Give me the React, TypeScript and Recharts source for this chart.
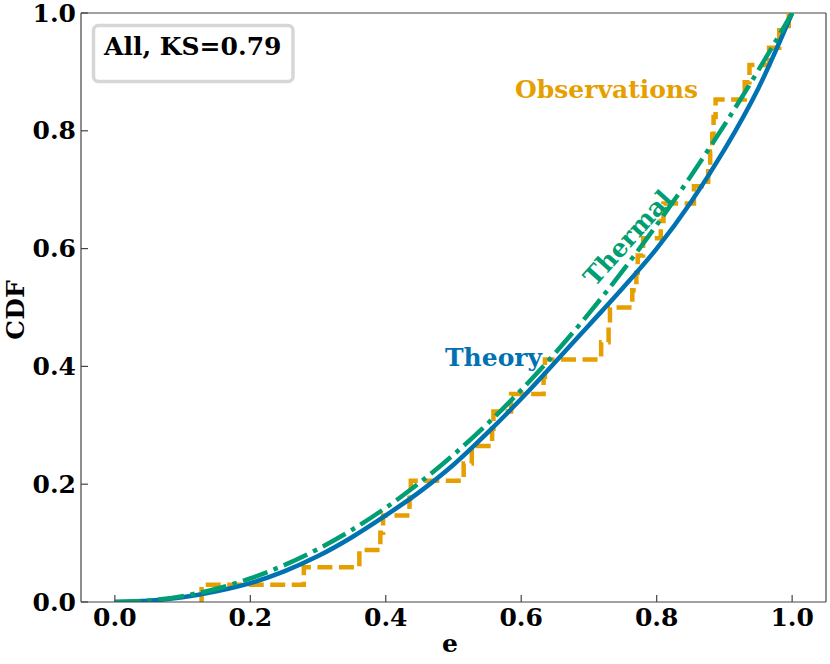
import React from 'react';
import { LineChart, Line, XAxis, YAxis, ReferenceLine } from 'recharts';

const FONT = '"DejaVu Serif", serif';
const BLUE = '#0072B2';
const ORANGE = '#E69F00';
const GREEN = '#009E73';
const AXIS = '#444';

const xTicks = [0, 0.2, 0.4, 0.6, 0.8, 1.0];
const yTicks = [0, 0.2, 0.4, 0.6, 0.8, 1.0];

// sorted eccentricities of the observed sample (34 systems)
const obsE = [
  0.128, 0.279, 0.361, 0.392, 0.396, 0.435, 0.437, 0.515, 0.527, 0.557,
  0.559, 0.585, 0.633, 0.635, 0.718, 0.729, 0.731, 0.764, 0.77, 0.772,
  0.78, 0.806, 0.81, 0.855, 0.876, 0.879, 0.882, 0.884, 0.887, 0.93,
  0.937, 0.966, 0.981, 0.995,
];

const gridE = [
  0, 0.05, 0.1, 0.15, 0.2, 0.25, 0.3, 0.35, 0.4, 0.45, 0.5,
  0.55, 0.6, 0.65, 0.7, 0.75, 0.8, 0.85, 0.9, 0.95, 1.0,
];
const theoryCdf = [
  0, 0.002, 0.008, 0.018, 0.032, 0.052, 0.078, 0.11, 0.147, 0.187, 0.233,
  0.287, 0.345, 0.407, 0.47, 0.533, 0.6, 0.678, 0.768, 0.872, 1.0,
];
const thermalCdf = [
  0, 0.0025, 0.01, 0.0225, 0.04, 0.0625, 0.09, 0.1225, 0.16, 0.2025, 0.25,
  0.3025, 0.36, 0.4225, 0.49, 0.5625, 0.64, 0.7225, 0.81, 0.9025, 1.0,
];

// empirical CDF: jump of 1/N at each observed value
const obsData = [
  { e: obsE[0], cdf: 0 },
  ...obsE.map((e, i) => ({ e, cdf: (i + 1) / obsE.length })),
];
const theoryData = gridE.map((e, i) => ({ e, cdf: theoryCdf[i] }));
const thermalData = gridE.map((e, i) => ({ e, cdf: thermalCdf[i] }));

const textStyle = { fontFamily: FONT, fontWeight: 'bold' as const, fontSize: 25 };

const XTick = ({ x, y, payload }: any) => (
  <g>
    <line x1={x} y1={y} x2={x} y2={y - 7} stroke={AXIS} strokeWidth={1.2} />
    <text x={x} y={y + 24} textAnchor="middle" fill="#000" style={textStyle}>
      {payload.value.toFixed(1)}
    </text>
  </g>
);

const YTick = ({ x, y, payload }: any) => (
  <g>
    <line x1={x} y1={y} x2={x + 7} y2={y} stroke={AXIS} strokeWidth={1.2} />
    <text x={x - 5} y={y + 8.5} textAnchor="end" fill="#000" style={textStyle}>
      {payload.value.toFixed(1)}
    </text>
  </g>
);

export default function App() {
  return (
    <div style={{ position: 'relative', width: 830, height: 664 }}>
      <style>{'body{margin:0}'}</style>
      <LineChart width={830} height={664} margin={{ top: 13, right: 4, bottom: 0, left: 0 }}>
        <XAxis
          type="number"
          dataKey="e"
          domain={[-0.05, 1.05]}
          ticks={xTicks}
          interval={0}
          height={62}
          tickSize={0}
          tickMargin={0}
          tickLine={false}
          tick={<XTick />}
          axisLine={{ stroke: AXIS, strokeWidth: 1.2 }}
          allowDataOverflow
        />
        <YAxis
          type="number"
          domain={[0, 1]}
          ticks={yTicks}
          interval={0}
          width={81}
          tickSize={0}
          tickMargin={0}
          tickLine={false}
          tick={<YTick />}
          axisLine={{ stroke: AXIS, strokeWidth: 1.2 }}
          allowDataOverflow
        />
        <ReferenceLine x={1.05} stroke={AXIS} strokeWidth={1.2} />
        <ReferenceLine y={1} stroke={AXIS} strokeWidth={1.2} />
        <Line
          data={obsData}
          dataKey="cdf"
          type="stepAfter"
          stroke={ORANGE}
          strokeWidth={4.5}
          strokeDasharray="15 6.5"
          dot={false}
          isAnimationActive={false}
        />
        <Line
          data={theoryData}
          dataKey="cdf"
          type="monotone"
          stroke={BLUE}
          strokeWidth={4.5}
          dot={false}
          isAnimationActive={false}
        />
        <Line
          data={thermalData}
          dataKey="cdf"
          type="monotone"
          stroke={GREEN}
          strokeWidth={4.5}
          strokeDasharray="26 6.5 4.5 6.5"
          dot={false}
          isAnimationActive={false}
        />
      </LineChart>
      <svg
        width={830}
        height={664}
        style={{ position: 'absolute', left: 0, top: 0, pointerEvents: 'none' }}
      >
        <rect x={93.5} y={25.5} width={199.5} height={56} rx={5} fill="#fff" stroke="#d6d6d6" strokeWidth={3.5} />
        <text x={104} y={55} fill="#000" style={textStyle}>All, KS=0.79</text>
        <text x={515} y={98} fill={ORANGE} style={textStyle}>Observations</text>
        <text x={445} y={366} fill={BLUE} style={textStyle}>Theory</text>
        <text
          transform="translate(628,238) rotate(-48)"
          textAnchor="middle"
          dominantBaseline="central"
          fill={GREEN}
          style={textStyle}
        >
          Thermal
        </text>
        <text x={450} y={652} textAnchor="middle" fill="#000" style={textStyle}>e</text>
        <text transform="translate(24,310) rotate(-90)" textAnchor="middle" fill="#000" style={textStyle}>
          CDF
        </text>
      </svg>
    </div>
  );
}
